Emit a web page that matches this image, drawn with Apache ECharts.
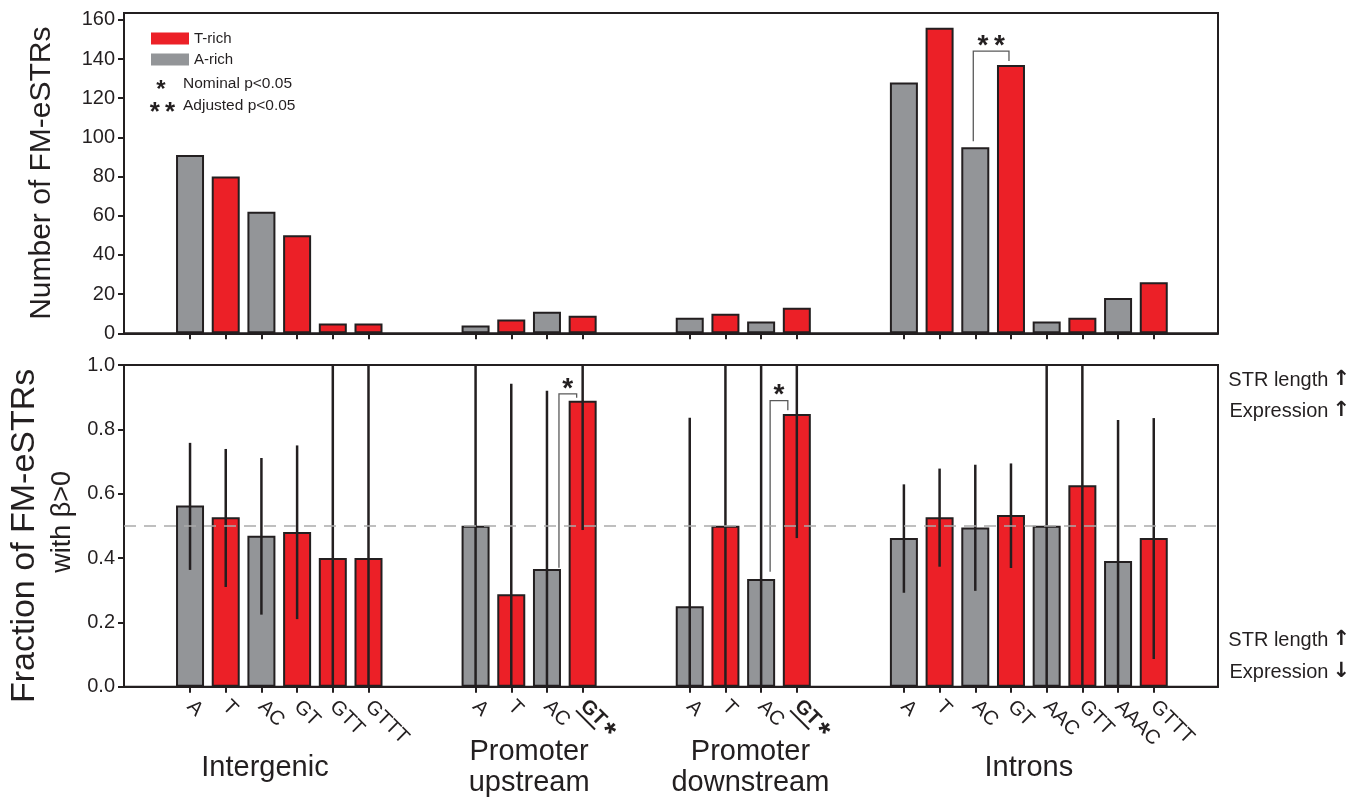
<!DOCTYPE html>
<html><head><meta charset="utf-8">
<script src="https://cdn.jsdelivr.net/npm/echarts@6/dist/echarts.min.js"></script>
<style>html,body{margin:0;padding:0;background:#fff}#c{width:1353px;height:798px}</style>
</head><body><div id="c"></div>
<script>
// ---------------- data ----------------
const groupNames = ['Intergenic', 'Promoter\nupstream', 'Promoter\ndownstream', 'Introns'];
const intergenicMotifs = ['A', 'T', 'AC', 'GT', 'GTT', 'GTTT'];
const upstreamMotifs = ['A', 'T', 'AC', 'GT'];
const downstreamMotifs = ['A', 'T', 'AC', 'GT'];
const intronMotifs = ['A', 'T', 'AC', 'GT', 'AAC', 'GTT', 'AAAC', 'GTTT'];
const tRichMotifs = ['T', 'GT', 'GTT', 'GTTT'];

// Number of FM-eSTRs
const intergenicCounts = [91, 80, 62, 50, 5, 5];
const upstreamCounts = [4, 7, 11, 9];
const downstreamCounts = [8, 10, 6, 13];
const intronCounts = [128, 156, 95, 137, 6, 8, 18, 26];

// Fraction of FM-eSTRs with beta>0, with confidence interval
const intergenicFrac = [0.563, 0.527, 0.469, 0.481, 0.40, 0.40];
const intergenicLow = [0.363, 0.31, 0.224, 0.21, 0, 0];
const intergenicHigh = [0.758, 0.739, 0.711, 0.75, 1, 1];
const upstreamFrac = [0.5, 0.287, 0.366, 0.889];
const upstreamLow = [0, 0, 0, 0.487];
const upstreamHigh = [1, 0.942, 0.92, 1];
const downstreamFrac = [0.25, 0.5, 0.335, 0.848];
const downstreamLow = [0, 0, 0, 0.462];
const downstreamHigh = [0.836, 1, 1, 1];
const intronFrac = [0.462, 0.527, 0.495, 0.534, 0.5, 0.626, 0.391, 0.462];
const intronLow = [0.292, 0.373, 0.298, 0.369, 0, 0, 0, 0.086];
const intronHigh = [0.629, 0.678, 0.69, 0.694, 1, 1, 0.829, 0.835];

// motifs marked as nominally significant in the lower panel (per group)
const nominalMotifs = [[], ['GT'], ['GT'], []];

const countTicks = [0, 20, 40, 60, 80, 100, 120, 140, 160];
const fracTicks = [0, 0.2, 0.4, 0.6, 0.8, 1.0];

// significance brackets: [group, fromMotif, toMotif, fromY, topY, toY, text]
const countBrackets = [[3, 'AC', 'GT', 98, 144, 139, '*\u2009*']];
const fracBrackets = [
  [1, 'AC', 'GT', 0.37, 0.91, 0.898, '*'],
  [2, 'AC', 'GT', 0.357, 0.889, 0.859, '*']
];

// ---------------- build ----------------
const RED = '#ec2027', GRAY = '#939598', INK = '#231f20';
const FONT = 'Liberation Sans, Arial, sans-serif';
const groups = [
  { motifs: intergenicMotifs, counts: intergenicCounts, frac: intergenicFrac, low: intergenicLow, high: intergenicHigh },
  { motifs: upstreamMotifs, counts: upstreamCounts, frac: upstreamFrac, low: upstreamLow, high: upstreamHigh },
  { motifs: downstreamMotifs, counts: downstreamCounts, frac: downstreamFrac, low: downstreamLow, high: downstreamHigh },
  { motifs: intronMotifs, counts: intronCounts, frac: intronFrac, low: intronLow, high: intronHigh }
];
const GAP_SLOTS = 2;
const groupLabelShift = [-0.4, 0, 0.2, 0];
const items = [];
let pos = 0;
groups.forEach((g, gi) => {
  g.start = pos;
  g.motifs.forEach((m, i) => {
    items.push({ x: pos + i, group: gi, motif: m, tRich: tRichMotifs.includes(m),
      count: g.counts[i], frac: g.frac[i], low: g.low[i], high: g.high[i],
      nominal: nominalMotifs[gi].includes(m) });
  });
  g.center = pos + (g.motifs.length - 1) / 2 + groupLabelShift[gi];
  pos += g.motifs.length + GAP_SLOTS;
});
const lastX = items[items.length - 1].x;
const X_MIN = -1.85, X_MAX = lastX + 1.8;
const xOf = (gi, motif) => groups[gi].start + groups[gi].motifs.indexOf(motif);
const positions = items.map(d => d.x);

const barStyle = c => ({ color: c, borderColor: INK, borderWidth: 2 });

function xAxisBase(gridIndex) {
  return {
    type: 'value', gridIndex, min: X_MIN, max: X_MAX, position: 'bottom',
    splitLine: { show: false },
    axisLine: { show: true, onZero: false, lineStyle: { color: INK, width: 2 } },
    axisTick: { show: true, length: 6, lineStyle: { color: INK, width: 2 }, customValues: positions },
  };
}

const errData = items.map(d => [d.x, d.low, d.high]);
const bracketLegShift = [[[-2, -2]], [[12, -6], [9, -9]]];

function bracketSeries(list, xAxisIndex, yAxisIndex, shifts) {
  return {
    type: 'custom', xAxisIndex, yAxisIndex, z: 6, silent: true,
    data: list.map(b => [xOf(b[0], b[1]), b[3], b[4], xOf(b[0], b[2]), b[5]]),
    encode: { x: [0, 3], y: [1, 2, 4] },
    renderItem(params, api) {
      const b = list[params.dataIndex];
      const sh = shifts[params.dataIndex];
      const p1 = api.coord([api.value(0), api.value(1)]);
      const pt = api.coord([api.value(0), api.value(2)]);
      const p2 = api.coord([api.value(3), api.value(4)]);
      const xa = p1[0] + sh[0], xb = p2[0] + sh[1];
      return {
        type: 'group',
        children: [
          { type: 'polyline', shape: { points: [[xa, p1[1]], [xa, pt[1]], [xb, pt[1]], [xb, p2[1]]] },
            style: { stroke: '#5a5a5a', lineWidth: 1.3, fill: null } },
          { type: 'text', x: (xa + xb) / 2, y: pt[1] - 5,
            style: { text: b[6], fill: INK, fontSize: 28, fontWeight: 'bold', fontFamily: FONT, align: 'center', verticalAlign: 'middle' } }
        ]
      };
    }
  };
}

function sideNote(text, arrow, y) {
  return { type: 'text', x: 1350, y, style: {
    text: '{t|' + text + '}{a|' + arrow + '}', align: 'right', verticalAlign: 'middle',
    rich: { t: { fontSize: 20, fill: INK, fontFamily: FONT }, a: { fontSize: 21, fontWeight: 'bold', fill: INK, fontFamily: 'DejaVu Sans', padding: [0, 0, 0, 4] } }
  } };
}

const option = {
  backgroundColor: '#fff',
  animation: false,
  textStyle: { fontFamily: FONT, color: INK },
  grid: [
    { left: 124, right: 135, top: 13, height: 320.3, show: true, borderColor: INK, borderWidth: 2, outerBoundsMode: 'none', containLabel: false },
    { left: 124, right: 135, top: 365, height: 321.7, show: true, borderColor: INK, borderWidth: 2, outerBoundsMode: 'none', containLabel: false }
  ],
  legend: {
    data: ['T-rich', 'A-rich'], orient: 'vertical', left: 151, top: 31, padding: 0,
    itemWidth: 38, itemHeight: 12, itemGap: 6, icon: 'rect',
    itemStyle: { borderWidth: 0 },
    textStyle: { fontSize: 15, color: INK, fontFamily: FONT }
  },
  xAxis: [
    Object.assign(xAxisBase(0), { axisLabel: { show: false } }),
    Object.assign(xAxisBase(1), {
      axisLabel: {
        customValues: positions, rotate: -45, margin: 17, fontSize: 20, color: INK, fontFamily: FONT,
        formatter: v => {
          const d = items.find(it => Math.abs(it.x - v) < 1e-6);
          if (!d) return '';
          return d.nominal ? '{sig|' + d.motif + '}{star|*}\n{ul| }' : d.motif;
        },
        rich: {
          sig: { fontSize: 20, fontWeight: 'bold', color: INK, fontFamily: FONT, lineHeight: 19 },
          star: { fontSize: 30, fontWeight: 'bold', color: INK, fontFamily: FONT, lineHeight: 19, padding: [10, 0, 0, 3] },
          ul: { width: 27, height: 2, lineHeight: 2, backgroundColor: INK, fontSize: 2 }
        }
      }
    }),
    {
      type: 'value', gridIndex: 1, min: X_MIN, max: X_MAX, position: 'bottom',
      axisLine: { show: false }, axisTick: { show: false }, splitLine: { show: false },
      axisLabel: {
        customValues: groups.map(g => g.center), margin: 81, verticalAlign: 'middle',
        fontSize: 29, lineHeight: 31, color: INK, fontFamily: FONT,
        formatter: v => { const gi = groups.findIndex(g => Math.abs(g.center - v) < 1e-6); return gi < 0 ? '' : groupNames[gi]; }
      }
    }
  ],
  yAxis: [
    {
      type: 'value', gridIndex: 0, min: 0, max: 163.5,
      name: 'Number of FM-eSTRs', nameLocation: 'middle', nameGap: 67,
      nameTextStyle: { fontSize: 30, color: INK, fontFamily: FONT },
      splitLine: { show: false },
      axisLine: { show: true, onZero: false, lineStyle: { color: INK, width: 2 } },
      axisTick: { show: true, length: 6, lineStyle: { color: INK, width: 2 }, customValues: countTicks },
      axisLabel: { customValues: countTicks, margin: 9, fontSize: 20, color: INK, fontFamily: FONT }
    },
    {
      type: 'value', gridIndex: 1, min: 0, max: 1, interval: 0.2,
      name: '{a|Fraction of FM-eSTRs}\n{b|with β>0}', nameLocation: 'middle', nameGap: 30,
      nameTextStyle: { color: INK, fontFamily: FONT,
        rich: { a: { fontSize: 34, lineHeight: 40, color: INK, fontFamily: FONT, padding: [0, 20, 0, 0] },
                b: { fontSize: 27, lineHeight: 36, color: INK, fontFamily: FONT, padding: [0, 0, 0, 8] } } },
      splitLine: { show: false },
      axisLine: { show: true, onZero: false, lineStyle: { color: INK, width: 2 } },
      axisTick: { show: true, length: 6, lineStyle: { color: INK, width: 2 }, customValues: fracTicks },
      axisLabel: { customValues: fracTicks, margin: 9, fontSize: 20, color: INK, fontFamily: FONT, formatter: v => v.toFixed(1) }
    }
  ],
  series: [
    { name: 'T-rich', type: 'bar', xAxisIndex: 0, yAxisIndex: 0, barWidth: 28, barGap: '-100%',
      itemStyle: barStyle(RED), data: items.filter(d => d.tRich).map(d => [d.x, d.count]) },
    { name: 'A-rich', type: 'bar', xAxisIndex: 0, yAxisIndex: 0, barWidth: 28, barGap: '-100%',
      itemStyle: barStyle(GRAY), data: items.filter(d => !d.tRich).map(d => [d.x, d.count]) },
    { name: 'T-rich', type: 'bar', xAxisIndex: 1, yAxisIndex: 1, barWidth: 28, barGap: '-100%',
      itemStyle: barStyle(RED), data: items.filter(d => d.tRich).map(d => [d.x, d.frac]) },
    { name: 'A-rich', type: 'bar', xAxisIndex: 1, yAxisIndex: 1, barWidth: 28, barGap: '-100%',
      itemStyle: barStyle(GRAY), data: items.filter(d => !d.tRich).map(d => [d.x, d.frac]),
      markLine: { silent: true, symbol: 'none', label: { show: false }, z: 10,
        lineStyle: { type: [12, 8], color: '#aaaaaa', width: 1.5 }, data: [{ yAxis: 0.5 }] } },
    {
      type: 'custom', xAxisIndex: 1, yAxisIndex: 1, z: 5, silent: true, data: errData,
      encode: { x: 0, y: [1, 2] },
      renderItem(params, api) {
        const a = api.coord([api.value(0), api.value(1)]);
        const b = api.coord([api.value(0), api.value(2)]);
        return { type: 'line', shape: { x1: a[0], y1: a[1], x2: b[0], y2: b[1] },
          style: { stroke: INK, lineWidth: 2.5 } };
      }
    },
    bracketSeries(countBrackets, 0, 0, bracketLegShift[0]),
    bracketSeries(fracBrackets, 1, 1, bracketLegShift[1])
  ],
  graphic: [
    { type: 'text', x: 161, y: 90, style: { text: '*', fontSize: 24, fontWeight: 'bold', fill: INK, fontFamily: FONT, align: 'center', verticalAlign: 'middle' } },
    { type: 'text', x: 183, y: 84, style: { text: 'Nominal p<0.05', fontSize: 15.5, fill: INK, fontFamily: FONT, align: 'left', verticalAlign: 'middle' } },
    { type: 'text', x: 162.5, y: 113, style: { text: '*\u2009*', fontSize: 26, fontWeight: 'bold', fill: INK, fontFamily: FONT, align: 'center', verticalAlign: 'middle' } },
    { type: 'text', x: 183, y: 106, style: { text: 'Adjusted p<0.05', fontSize: 15.5, fill: INK, fontFamily: FONT, align: 'left', verticalAlign: 'middle' } },
    sideNote('STR length', '↑', 380),
    sideNote('Expression', '↑', 411),
    sideNote('STR length', '↑', 640),
    sideNote('Expression', '↓', 672)
  ]
};
const chart = echarts.init(document.getElementById('c'), null, { renderer: 'canvas' });
chart.setOption(option);
</script></body></html>
